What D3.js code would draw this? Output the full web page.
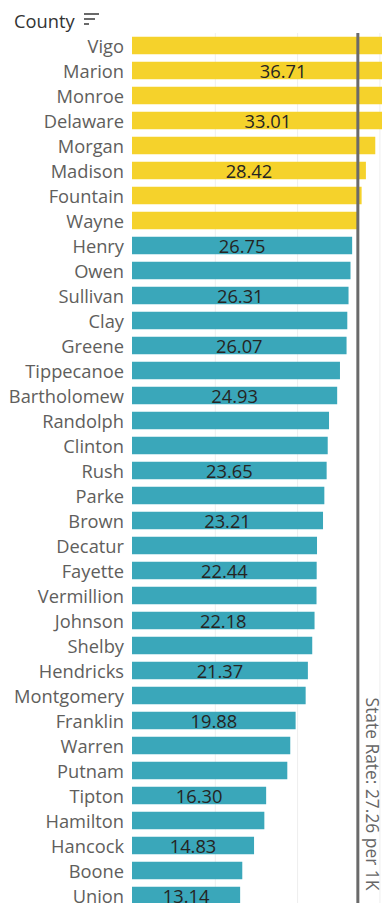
<!DOCTYPE html>
<html><head><meta charset="utf-8">
<script src="https://cdn.jsdelivr.net/npm/d3@7"></script>
<style>
html,body{margin:0;padding:0;background:#fff;overflow:hidden;}
svg{display:block;}
</style></head>
<body><div id="chart"></div>
<script>
const counties = ["Vigo","Marion","Monroe","Delaware","Morgan","Madison","Fountain","Wayne","Henry","Owen","Sullivan","Clay","Greene","Tippecanoe","Bartholomew","Randolph","Clinton","Rush","Parke","Brown","Decatur","Fayette","Vermillion","Johnson","Shelby","Hendricks","Montgomery","Franklin","Warren","Putnam","Tipton","Hamilton","Hancock","Boone","Union"];
const rates = [38.2,36.71,35.1,33.01,29.56,28.42,27.9,27.35,26.75,26.55,26.31,26.16,26.07,25.27,24.93,23.94,23.78,23.65,23.37,23.21,22.48,22.44,22.42,22.18,21.9,21.37,21.1,19.88,19.23,18.87,16.30,16.08,14.83,13.4,13.14];
const labeledCounties = ["Marion","Delaware","Madison","Henry","Sullivan","Greene","Bartholomew","Rush","Brown","Fayette","Johnson","Hendricks","Franklin","Tipton","Hancock","Union"];
const gridTicks = [10,20,30];
const stateRate = 27.26;
const stateLabel = "State Rate: 27.26 per 1K";
const axisTitle = "County";

const W = 382, H = 903;
const data = counties.map((c,i)=>({county:c, value:rates[i]}));
const svg = d3.select("#chart").append("svg").attr("width",W).attr("height",H);
const font = "'Open Sans', sans-serif";
const fs = 18.3;

const x = d3.scaleLinear().domain([0,40]).range([132, 132+8.23*40]);
const y = d3.scaleBand().domain(counties).range([33, 33+25*counties.length]).paddingInner(0.3).paddingOuter(0.15);

// gridlines
svg.append("g").selectAll("line").data(gridTicks).join("line")
  .attr("x1",d=>x(d)+1).attr("x2",d=>x(d)+1).attr("y1",33).attr("y2",H)
  .attr("stroke","#eeeeee").attr("stroke-width",1);

// bars
svg.append("g").selectAll("rect").data(data).join("rect")
  .attr("x",x(0)).attr("y",d=>y(d.county))
  .attr("width",d=>x(d.value)-x(0)).attr("height",y.bandwidth())
  .attr("fill",d=>d.value>stateRate?"#F5D22B":"#3AA7BA");

// category axis labels
svg.append("g").selectAll("text").data(counties).join("text")
  .attr("x",124).attr("y",d=>y(d)+y.bandwidth()/2+2.5)
  .attr("text-anchor","end").attr("dominant-baseline","middle")
  .attr("font-family",font).attr("font-size",fs).attr("fill","#605E5C")
  .text(d=>d);

// value labels
svg.append("g").selectAll("text").data(data.filter(d=>labeledCounties.includes(d.county))).join("text")
  .attr("x",d=>(x(0)+x(d.value))/2).attr("y",d=>y(d.county)+y.bandwidth()/2+2.5)
  .attr("text-anchor","middle").attr("dominant-baseline","middle")
  .attr("font-family",font).attr("font-size",fs).attr("fill","#252423")
  .text(d=>d3.format(".2f")(d.value));

// state rate line
svg.append("line").attr("x1",x(stateRate)+1.5).attr("x2",x(stateRate)+1.5)
  .attr("y1",33).attr("y2",H).attr("stroke","#6a6a6a").attr("stroke-width",3);

svg.append("text")
  .attr("transform",`translate(${x(stateRate)+14},794) rotate(90)`)
  .attr("text-anchor","middle").attr("dominant-baseline","middle")
  .attr("font-family",font).attr("font-size",17.4).attr("fill","#666")
  .text(stateLabel);

// title
svg.append("text").attr("x",14).attr("y",28)
  .attr("font-family",font).attr("font-size",fs).attr("fill","#333")
  .text(axisTitle);
const icon = svg.append("g").attr("stroke","#444").attr("stroke-width",1.6);
icon.append("line").attr("x1",84).attr("x2",99).attr("y1",14).attr("y2",14);
icon.append("line").attr("x1",84).attr("x2",95).attr("y1",19).attr("y2",19);
icon.append("line").attr("x1",84).attr("x2",89).attr("y1",24).attr("y2",24);
</script>
</body></html>
